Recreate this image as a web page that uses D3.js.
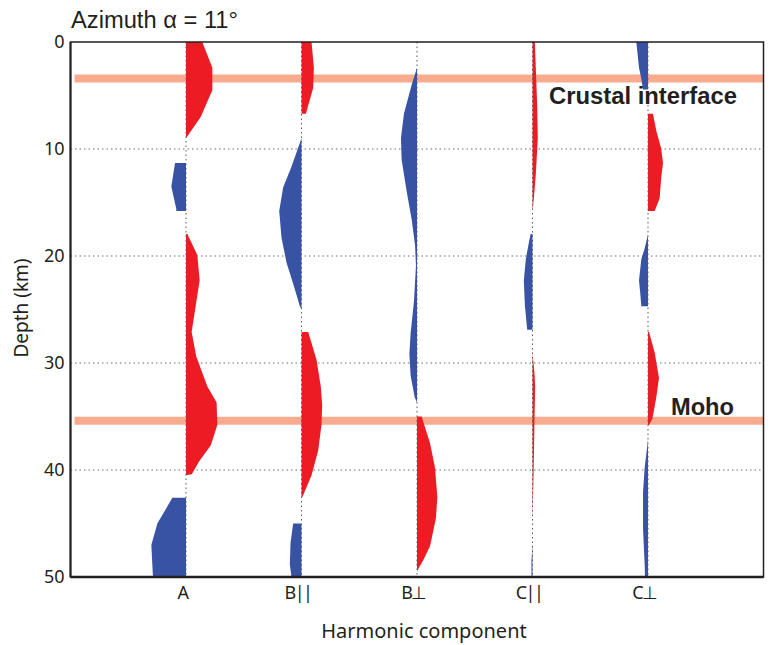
<!DOCTYPE html>
<html>
<head>
<meta charset="utf-8">
<script src="https://cdn.jsdelivr.net/npm/d3@7"></script>
<style>
  body { margin: 0; background: #fff; }
  .tick text { font-family: "Noto Sans", sans-serif; }
</style>
</head>
<body>
<div id="chart"></div>
<script>
// harmonic components along the x axis
var components = ["A", "B||", "B\u22A5", "C||", "C\u22A5"];
var depthTicks = [0, 10, 20, 30, 40, 50];
var gridDepths = [10, 20, 30, 40];

// interfaces (depth in km)
var interfaceNames = ["Crustal interface", "Moho"];
var interfaceDepths = [3.4, 35.4];

// each trace is a list of lobes, each lobe is [depth km, amplitude]
var traceA = [
  [[0, 0], [0, 0.141], [2.4, 0.228], [4.5, 0.228], [7.0, 0.127], [9.0, 0]],
  [[11.3, 0], [11.3, -0.095], [13.5, -0.127], [15.6, -0.084], [15.8, -0.084], [15.8, 0]],
  [[17.95, 0], [17.95, 0.012], [19.9, 0.098], [22.3, 0.118], [27.1, 0.049], [29.4, 0.089],
   [32.2, 0.185], [33.7, 0.265], [35.8, 0.271], [37.7, 0.214], [39.2, 0.113], [40.4, 0.05], [40.5, 0]],
  [[42.6, 0], [42.6, -0.118], [45.0, -0.248], [47.0, -0.3], [50, -0.286], [50, 0]]
];
var traceBpar = [
  [[0, 0], [0, 0.087], [2.4, 0.107], [4.3, 0.101], [6.7, 0.038], [6.7, 0]],
  [[9.0, 0], [11.65, -0.087], [13.6, -0.159], [15.8, -0.193], [18.3, -0.173], [20.6, -0.13],
   [22.6, -0.072], [24.7, -0.014], [25.0, 0]],
  [[27.1, 0], [27.1, 0.058], [29.7, 0.13], [32.2, 0.167], [33.9, 0.179], [35.8, 0.173],
   [38.2, 0.144], [40.5, 0.087], [42.5, 0.009], [42.6, 0]],
  [[45.0, 0], [45.0, -0.072], [46.8, -0.095], [48.8, -0.101], [50, -0.087], [50, 0]]
];
var traceBperp = [
  [[2.4, 0], [4.0, -0.046], [6.7, -0.113], [9.0, -0.139], [11.0, -0.133], [14.0, -0.089],
   [16.6, -0.046], [19.0, -0.017], [20.9, -0.009], [24.2, -0.026], [27.2, -0.055],
   [29.2, -0.066], [31.2, -0.055], [33.2, -0.02], [33.7, 0]],
  [[35.0, 0], [35.0, 0.04], [37.5, 0.113], [39.8, 0.156], [42.5, 0.176], [44.5, 0.164],
   [47.1, 0.113], [48.4, 0.055], [49.4, 0.003], [49.5, 0]]
];
var traceCpar = [
  [[0, 0], [0, 0.02], [5.7, 0.04], [9.0, 0.046], [12.3, 0.029], [14.6, 0.012], [15.8, 0]],
  [[17.95, 0], [17.95, -0.017], [20.3, -0.058], [22.3, -0.075], [24.6, -0.066], [26.9, -0.046], [26.9, 0]],
  [[29.05, 0], [30.9, 0.017], [32.2, 0.023], [35.5, 0.017], [40.5, 0.009], [44.8, 0]],
  [[46.8, 0], [48.5, -0.009], [50, -0.009], [50, 0]]
];
var traceCperp = [
  [[0, 0], [0, -0.101], [2.4, -0.078], [3.4, -0.058], [4.45, -0.043], [4.45, 0]],
  [[6.7, 0], [6.7, 0.043], [8.3, 0.072], [10.0, 0.115], [11.3, 0.13], [12.6, 0.115],
   [14.6, 0.101], [15.8, 0.058], [15.8, 0]],
  [[18.0, 0], [19.3, -0.029], [20.3, -0.058], [22.3, -0.078], [23.6, -0.066], [24.7, -0.058], [24.7, 0]],
  [[27.1, 0], [27.1, 0.009], [29.05, 0.058], [31.4, 0.095], [33.2, 0.072], [35.2, 0.038], [35.8, 0.009], [35.8, 0]],
  [[37.2, 0], [39.8, -0.029], [42.1, -0.043], [45.5, -0.043], [48.8, -0.029], [50, -0.026], [50, 0]]
];
var traces = [traceA, traceBpar, traceBperp, traceCpar, traceCperp];

var svgWidth = 776;
var svgHeight = 645;
var margin = { top: 42, right: 12.5, bottom: 68, left: 70.5 };
var width = svgWidth - margin.left - margin.right;
var height = svgHeight - margin.top - margin.bottom;

var red = "#ed1c24";
var blue = "#3953a4";
var band = "#f9ab8f";

var svg = d3.select("#chart")
  .append("svg")
  .attr("width", svgWidth)
  .attr("height", svgHeight);

var chartGroup = svg.append("g")
  .attr("transform", `translate(${margin.left}, ${margin.top})`);

var xScale = d3.scaleLinear().domain([0, 6]).range([0, width]);
var yScale = d3.scaleLinear().domain([0, 50]).range([0, height]);

// dotted horizontal grid
chartGroup.selectAll(".hgrid")
  .data(gridDepths)
  .enter()
  .append("line")
  .attr("x1", 0)
  .attr("x2", width)
  .attr("y1", d => yScale(d))
  .attr("y2", d => yScale(d))
  .attr("stroke", "#6d6e71")
  .attr("stroke-width", 1)
  .attr("stroke-dasharray", "1.5,3");

// interface bands
chartGroup.selectAll(".band")
  .data(interfaceDepths)
  .enter()
  .append("line")
  .attr("x1", 4)
  .attr("x2", width)
  .attr("y1", d => yScale(d))
  .attr("y2", d => yScale(d))
  .attr("stroke", band)
  .attr("stroke-width", 8);

// wiggle lobes
traces.forEach(function (lobes, i) {
  var area = d3.area()
    .y(d => yScale(d[0]))
    .x0(xScale(i + 1))
    .x1(d => xScale(i + 1 + d[1]));

  chartGroup.selectAll(".lobe" + i)
    .data(lobes)
    .enter()
    .append("path")
    .attr("d", area)
    .attr("fill", function (lobe) {
      var s = d3.sum(lobe, d => d[1]);
      return s >= 0 ? red : blue;
    });
});

// dotted vertical lines at each component
chartGroup.selectAll(".vgrid")
  .data(components)
  .enter()
  .append("line")
  .attr("x1", (d, i) => xScale(i + 1))
  .attr("x2", (d, i) => xScale(i + 1))
  .attr("y1", 0)
  .attr("y2", height)
  .attr("stroke", "#58595b")
  .attr("stroke-width", 1)
  .attr("stroke-dasharray", "1.5,3");

// interface labels
var labelPos = [[549, 104], [671, 415]];
var labelLen = [188, 63];
svg.selectAll(".iflabel")
  .data(interfaceNames)
  .enter()
  .append("text")
  .attr("x", (d, i) => labelPos[i][0])
  .attr("y", (d, i) => labelPos[i][1])
  .attr("textLength", (d, i) => labelLen[i])
  .attr("lengthAdjust", "spacingAndGlyphs")
  .attr("font-family", "Liberation Sans, Arial, sans-serif")
  .attr("font-weight", "bold")
  .attr("font-size", "23px")
  .attr("fill", "#231f20")
  .text(d => d);

// axes
var leftAxis = d3.axisLeft(yScale)
  .tickValues(depthTicks)
  .tickSize(0)
  .tickPadding(6);

var bottomAxis = d3.axisBottom(xScale)
  .tickValues([1, 2, 3, 4, 5])
  .tickFormat((d, i) => components[i])
  .tickSize(0)
  .tickPadding(9);

var yAxisG = chartGroup.append("g").call(leftAxis);
yAxisG.select(".domain").remove();
yAxisG.selectAll("text")
  .attr("font-size", "18px")
  .attr("fill", "#231f20");

var xAxisG = chartGroup.append("g")
  .attr("transform", `translate(0, ${height})`)
  .call(bottomAxis);
xAxisG.select(".domain").remove();
xAxisG.selectAll("text")
  .attr("font-size", "18px")
  .attr("letter-spacing", "-1.5px")
  .attr("fill", "#231f20")
  .attr("dx", "-4px");

// frame
chartGroup.append("rect")
  .attr("x", 0)
  .attr("y", 0)
  .attr("width", width)
  .attr("height", height)
  .attr("fill", "none")
  .attr("stroke", "#231f20")
  .attr("stroke-width", 1.5);

chartGroup.append("line")
  .attr("x1", 0).attr("x2", 0)
  .attr("y1", 0).attr("y2", height)
  .attr("stroke", "#231f20")
  .attr("stroke-width", 2);

chartGroup.append("line")
  .attr("x1", 0).attr("x2", width)
  .attr("y1", height).attr("y2", height)
  .attr("stroke", "#231f20")
  .attr("stroke-width", 2.5);

// titles
svg.append("text")
  .attr("x", 71)
  .attr("y", 28)
  .attr("font-family", "Liberation Sans, Arial, sans-serif")
  .attr("font-size", "23px")
  .attr("textLength", 167)
  .attr("lengthAdjust", "spacingAndGlyphs")
  .attr("fill", "#231f20")
  .text("Azimuth \u03B1 = 11\u00B0");

svg.append("text")
  .attr("x", margin.left + width / 2 + 7)
  .attr("y", 638)
  .attr("text-anchor", "middle")
  .attr("font-family", "Noto Sans, sans-serif")
  .attr("font-size", "20px")
  .attr("fill", "#231f20")
  .text("Harmonic component");

svg.append("text")
  .attr("transform", "rotate(-90)")
  .attr("x", -308)
  .attr("y", 28)
  .attr("text-anchor", "middle")
  .attr("font-family", "Noto Sans, sans-serif")
  .attr("font-size", "19px")
  .attr("fill", "#231f20")
  .text("Depth (km)");
</script>
</body>
</html>
